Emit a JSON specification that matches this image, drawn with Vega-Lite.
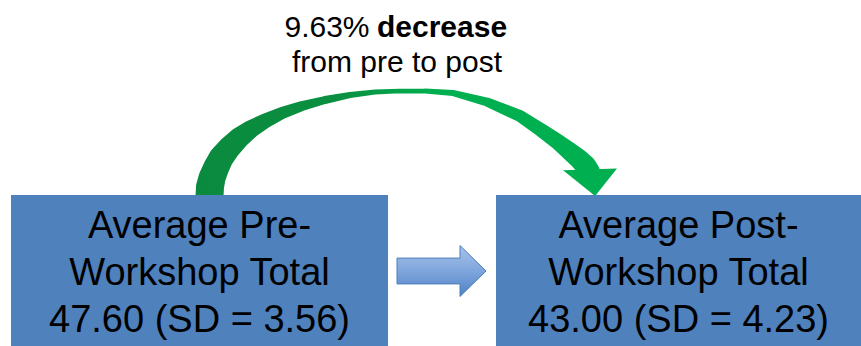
{
  "$schema": "https://vega.github.io/schema/vega-lite/v6.json",
  "width": 861,
  "height": 346,
  "padding": 0,
  "autosize": "none",
  "background": "white",
  "config": {"view": {"stroke": null}, "text": {"font": "Liberation Sans"}},
  "datasets": {
    "boxes": [
      {"box": "pre", "x": 11, "x2": 388, "y": 195, "y2": 346},
      {"box": "post", "x": 496, "x2": 861, "y": 195, "y2": 346}
    ],
    "boxtext": [
      {"line": "Average Pre-", "x": 199.5, "y": 238},
      {"line": "Workshop Total", "x": 199.5, "y": 285},
      {"line": "47.60 (SD = 3.56)", "x": 199.5, "y": 332},
      {"line": "Average Post-", "x": 678.5, "y": 238},
      {"line": "Workshop Total", "x": 678.5, "y": 285},
      {"line": "43.00 (SD = 4.23)", "x": 678.5, "y": 332}
    ],
    "plain": [
      {"line": "9.63%", "x": 327, "y": 37},
      {"line": "from pre to post", "x": 397, "y": 72}
    ],
    "bold": [
      {"line": "decrease", "x": 442, "y": 37}
    ],
    "arc": [
      {"i": 0, "x": 209, "y": 205, "w": 28},
      {"i": 1, "x": 210, "y": 187, "w": 28},
      {"i": 2, "x": 212, "y": 178, "w": 27},
      {"i": 3, "x": 216, "y": 168, "w": 26},
      {"i": 4, "x": 221, "y": 158, "w": 25},
      {"i": 5, "x": 229, "y": 148, "w": 23},
      {"i": 6, "x": 239, "y": 138, "w": 21},
      {"i": 7, "x": 251, "y": 129, "w": 18},
      {"i": 8, "x": 265, "y": 121, "w": 15},
      {"i": 9, "x": 282, "y": 113, "w": 12},
      {"i": 10, "x": 302, "y": 106, "w": 10},
      {"i": 11, "x": 325, "y": 100, "w": 8},
      {"i": 12, "x": 350, "y": 95, "w": 6},
      {"i": 13, "x": 375, "y": 92, "w": 5},
      {"i": 14, "x": 400, "y": 91, "w": 4.5},
      {"i": 15, "x": 425, "y": 91, "w": 5},
      {"i": 16, "x": 453, "y": 93, "w": 6},
      {"i": 17, "x": 487, "y": 102, "w": 9},
      {"i": 18, "x": 520, "y": 116, "w": 12},
      {"i": 19, "x": 541, "y": 130, "w": 14},
      {"i": 20, "x": 558, "y": 142, "w": 16},
      {"i": 21, "x": 568, "y": 150, "w": 18},
      {"i": 22, "x": 579, "y": 159, "w": 20},
      {"i": 23, "x": 586, "y": 166, "w": 21},
      {"i": 24, "x": 589, "y": 172, "w": 22}
    ],
    "greenhead": [{"x": 590, "y": 182.5}],
    "bluearrow": [{"x": 441.5, "y": 271}]
  },
  "layer": [
    {
      "data": {"name": "arc"},
      "mark": {
        "type": "trail",
        "color": {
          "gradient": "linear",
          "x1": 0, "y1": 0, "x2": 1, "y2": 0,
          "stops": [
            {"offset": 0, "color": "#0A8A3E"},
            {"offset": 0.35, "color": "#0A8F40"},
            {"offset": 0.6, "color": "#00B050"},
            {"offset": 1, "color": "#00B050"}
          ]
        }
      },
      "encoding": {
        "x": {"field": "x", "type": "quantitative", "scale": {"domain": [0, 861], "nice": false, "zero": false}, "axis": null},
        "y": {"field": "y", "type": "quantitative", "scale": {"domain": [0, 346], "nice": false, "zero": false, "reverse": true}, "axis": null},
        "size": {"field": "w", "type": "quantitative", "scale": null, "legend": null},
        "order": {"field": "i", "type": "quantitative"}
      }
    },
    {
      "data": {"name": "boxes"},
      "mark": {"type": "rect", "color": "#4F81BD"},
      "encoding": {
        "x": {"field": "x", "type": "quantitative"},
        "x2": {"field": "x2"},
        "y": {"field": "y", "type": "quantitative"},
        "y2": {"field": "y2"}
      }
    },
    {
      "data": {"name": "greenhead"},
      "mark": {
        "type": "point",
        "shape": "M-1,-0.45L1,-0.52L0.19,0.5Z",
        "size": 2916,
        "filled": true,
        "opacity": 1,
        "color": "#00B050"
      },
      "encoding": {
        "x": {"field": "x", "type": "quantitative"},
        "y": {"field": "y", "type": "quantitative"}
      }
    },
    {
      "data": {"name": "bluearrow"},
      "mark": {
        "type": "point",
        "shape": "M-1,-0.29L0.416,-0.29L0.416,-0.573L1,0L0.416,0.573L0.416,0.29L-1,0.29Z",
        "size": 7921,
        "filled": true,
        "opacity": 1,
        "fill": {
          "gradient": "linear",
          "x1": 0, "y1": 0, "x2": 0, "y2": 1,
          "stops": [
            {"offset": 0, "color": "#A7C3EA"},
            {"offset": 0.5, "color": "#7FA6DC"},
            {"offset": 1, "color": "#4F81C4"}
          ]
        },
        "stroke": "#4A7EBB",
        "strokeWidth": 1
      },
      "encoding": {
        "x": {"field": "x", "type": "quantitative"},
        "y": {"field": "y", "type": "quantitative"}
      }
    },
    {
      "data": {"name": "boxtext"},
      "mark": {"type": "text", "fontSize": 38, "align": "center", "baseline": "alphabetic", "color": "#000000"},
      "encoding": {
        "x": {"field": "x", "type": "quantitative"},
        "y": {"field": "y", "type": "quantitative"},
        "text": {"field": "line"}
      }
    },
    {
      "data": {"name": "plain"},
      "mark": {"type": "text", "fontSize": 30, "align": "center", "baseline": "alphabetic", "color": "#000000"},
      "encoding": {
        "x": {"field": "x", "type": "quantitative"},
        "y": {"field": "y", "type": "quantitative"},
        "text": {"field": "line"}
      }
    },
    {
      "data": {"name": "bold"},
      "mark": {"type": "text", "fontSize": 30, "fontWeight": "bold", "align": "center", "baseline": "alphabetic", "color": "#000000"},
      "encoding": {
        "x": {"field": "x", "type": "quantitative"},
        "y": {"field": "y", "type": "quantitative"},
        "text": {"field": "line"}
      }
    }
  ]
}
